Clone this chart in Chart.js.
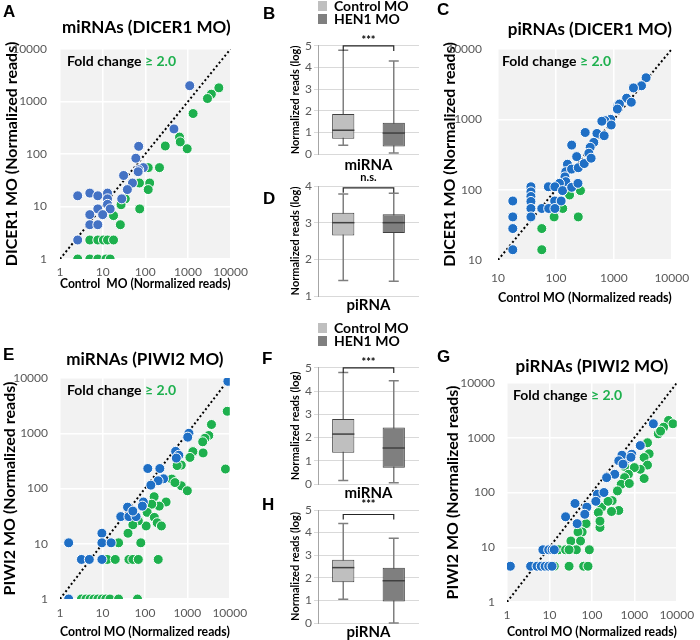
<!DOCTYPE html>
<html>
<head>
<meta charset="utf-8">
<script src="https://cdn.jsdelivr.net/npm/chart.js@4.4.1/dist/chart.umd.min.js"></script>
<style>
body { margin: 0; background: #fff; }
#fig { position: relative; width: 700px; height: 640px; overflow: hidden; }
#fig canvas { position: absolute; }
.lbl { position: absolute; font: bold 17px "Liberation Sans", Arial, sans-serif; line-height: 17px; color: #000; }
</style>
</head>
<body>
<div id="fig">
  <canvas id="cA" width="254" height="300" style="left:0;top:0"></canvas>
  <canvas id="cB" width="145" height="175" style="left:280px;top:0"></canvas>
  <canvas id="cD" width="145" height="145" style="left:280px;top:170px"></canvas>
  <canvas id="cC" width="280" height="310" style="left:420px;top:0"></canvas>
  <canvas id="cE" width="254" height="320" style="left:0;top:320px"></canvas>
  <canvas id="cF" width="145" height="183" style="left:280px;top:320px"></canvas>
  <canvas id="cH" width="145" height="152" style="left:280px;top:490px"></canvas>
  <canvas id="cG" width="280" height="320" style="left:420px;top:320px"></canvas>
  <div class="lbl" style="left:3px;top:3px">A</div>
  <div class="lbl" style="left:263px;top:5px">B</div>
  <div class="lbl" style="left:437px;top:1px">C</div>
  <div class="lbl" style="left:263px;top:190px">D</div>
  <div class="lbl" style="left:3px;top:346px">E</div>
  <div class="lbl" style="left:262px;top:350px">F</div>
  <div class="lbl" style="left:437px;top:348px">G</div>
  <div class="lbl" style="left:262px;top:496px">H</div>
</div>
<script>
// ---- scatter data: [control reads, knockdown reads] ----
const aBlue = [[1100,2000],[470,300],[70,140],[60,83],[90,55],[70,50],[68,46],[31,39],[50,28],[38,21],[28,14],
    [2.6,16],[5,18],[7.7,16],[13,18],[13,14],[13,11],[7.7,9],[15,9],[10,7],[5,7],[5,4.5],[7.7,4.5],[2.6,2.3]]
const aGreen = [[5300,1820],[3540,1380],[2870,1140],[1320,590],[635,210],[660,170],[960,126],[294,142],[215,55],
    [117,55],[127,28],[117,21],[73,28],[74,9],[34,14],[27,10.8],[18,6.7],[26,4.5],[5,2.3],[7.7,2.3],[10.4,2.3],
    [13,2.3],[18,2.3],[2.6,1],[5,1],[7.7,1],[12,1],[15,1]]

const cBlue = [[3600,3900],[3000,3000],[2180,2800],[1660,2000],[2000,1750],[1180,1590],[1250,1650],[1150,1400],
    [880,1000],[700,960],[620,940],[900,830],[510,630],[320,650],[680,585],[450,470],[390,400],[370,330],[228,295],
    [187,430],[158,230],[148,180],[186,196],[243,205],[308,235],[405,280],[143,152],[148,130],[115,123],[74,110],
    [96,110],[130,97],[187,108],[240,123],[95,69],[123,69],[57,54],[75,54],[96,54],[37,110],[37,93],[37,80],[37,68],
    [37,54],[37,41],[18,69],[18,41],[18,28],[18,14]]
const cGreen = [[265,97],[172,84],[131,54],[93,41],[243,41],[57,28],[57,14]]

const eBlue = [[9000,8700],[1090,1000],[1020,850],[530,470],[630,400],[550,355],[117,230],[225,230],[275,150],
    [205,138],[138,115],[92,57],[87,48],[39,46],[27,31],[42,31],[62,31],[52,39],[9.7,15.5],[9.7,10.4],[16,10.4],
    [1.6,10.4],[3.2,5.2],[4.9,5.2],[9.7,5.2],[1.6,1]]
const eGreen = [[8700,2500],[7900,225],[3700,1440],[3200,910],[2600,810],[2300,700],[2350,440],[1350,465],[1150,365],
    [720,265],[575,260],[720,112],[1000,91],[430,148],[510,128],[316,57],[218,48],[165,71],[145,52],[113,37],[167,30],
    [195,24],[245,21],[107,21],[70,26],[52,22],[40,15.5],[80,10.4],[24,10.4],[13,5.2],[20,5.2],[42,5.2],[52,5.2],
    [70,5.2],[206,5.2],[3.2,1],[4.1,1],[5.1,1],[6.3,1],[7.8,1],[9.8,1],[12,1],[15,1],[24,1],[67,1]]

const gBlue = [[2800,1800],[1380,720],[870,500],[645,405],[510,480],[430,380],[830,440],[540,330],[345,215],[222,187],
    [135,93],[192,100],[124,69],[76,54],[68,40],[45,27],[40,63],[24,36],[7,9],[9.6,9],[11.5,9],[13,9],[1.2,4.5],
    [3.6,4.5],[5.1,4.5],[6.4,4.5],[7.9,4.5],[9.6,4.5],[11.5,4.5]]
const gGreen = [[6400,2070],[8100,1800],[4900,1560],[3660,1180],[4150,1320],[2040,810],[2230,510],[1700,435],[2040,317],
    [1380,265],[1000,285],[1700,180],[590,300],[725,215],[590,187],[490,141],[760,146],[400,107],[300,71],[430,47],
    [290,45],[170,54],[142,43],[73,27],[59,19],[47,19],[32,13],[54,13],[155,23],[87,9],[43,9],[16.4,9],[24,9],[29,9],
    [13,4.5],[29,4.5],[64,4.5],[81,4.5],[240,69],[155,30]]

const miTicks = [1, 10, 100, 1000, 10000]
const piTicks = [10, 100, 1000, 10000]

// ---- box plot data (log normalized reads), [Control MO, HEN1 MO] ----
const boxLabels = ['Control MO', 'HEN1 MO']
const bMin = [0.4, 0.05], bQ1 = [0.7, 0.35], bMed = [1.1, 0.97], bQ3 = [1.85, 1.45], bMax = [4.8, 4.3]
const dMin = [1.42, 1.4], dQ1 = [2.65, 2.72], dMed = [3.0, 3.0], dQ3 = [3.27, 3.23], dMax = [3.78, 3.8]
const fMin = [0.15, 0.05], fQ1 = [1.35, 0.7], fMed = [2.15, 1.55], fQ3 = [2.8, 2.43], fMax = [4.8, 4.45]
const hMin = [1.05, 0], hQ1 = [1.8, 0.95], hMed = [2.45, 1.87], hQ3 = [2.8, 2.45], hMax = [4.4, 3.75]
const sigText = ['***', 'n.s.', '***', '***']
const sigLevel = [5.0, 3.95, 5.0, 4.8]

const BLUE_A = '#4472c4'
const BLUE = '#1f6fc5'
const GREEN = '#1eb04e'
const FONT = 'Lato, "Open Sans", sans-serif'

Chart.defaults.font.family = FONT
Chart.defaults.color = '#595959'

// grey panel behind the scatter plots
const plotBg = {
    id: 'plotBg',
    beforeDraw(chart){
        let a = chart.chartArea
        chart.ctx.save()
        chart.ctx.fillStyle = '#f2f2f2'
        chart.ctx.fillRect(a.left, a.top, a.width, a.height)
        chart.ctx.restore()
    }
}

// "Fold change >= 2.0" note in the top left corner
const foldNote = {
    id: 'foldNote',
    afterDatasetsDraw(chart, args, opts){
        let ctx = chart.ctx
        let x = chart.chartArea.left + opts.dx
        let y = chart.chartArea.top + 12
        ctx.save()
        ctx.font = 'bold 14px ' + FONT
        ctx.textBaseline = 'middle'
        ctx.fillStyle = '#000'
        ctx.fillText('Fold change ', x, y)
        x += ctx.measureText('Fold change ').width
        ctx.fillStyle = GREEN
        ctx.fillText('\u2265 2.0', x, y)
        ctx.restore()
    }
}

function toPts(arr){
    return arr.map(p => ({x: p[0], y: p[1]}))
}

function logAxis(ticks, o, isX){
    return {
        type: 'logarithmic',
        min: ticks[0],
        max: ticks[ticks.length - 1],
        afterBuildTicks: s => { s.ticks = ticks.map(v => ({value: v})) },
        afterFit: s => { if (isX) s.height = o.xH; else s.width = o.yW },
        grid: {color: '#ffffff', lineWidth: 1.5, drawTicks: false},
        border: {display: false},
        ticks: {
            autoSkip: false, maxRotation: 0,
            padding: isX ? o.xTickPad : o.yTickPad,
            color: '#595959', font: {size: 12},
            callback: v => String(v)
        },
        title: {
            display: true,
            text: isX ? o.xTitle : o.yTitle,
            color: '#000',
            font: {size: isX ? 14 : 16, weight: 'bold'},
            padding: isX ? {top: 0, bottom: o.xTitlePad} : {top: o.yTitlePad, bottom: 0}
        }
    }
}

function makeScatter(id, o){
    let t = o.ticks
    return new Chart(document.getElementById(id), {
        type: 'scatter',
        data: {
            datasets: [
                {label: 'up', data: toPts(o.blue), backgroundColor: o.blueColor, borderColor: '#fff', borderWidth: 1, pointRadius: 5},
                {label: 'down', data: toPts(o.green), backgroundColor: GREEN, borderColor: '#fff', borderWidth: 1, pointRadius: 5},
                {type: 'line', label: 'y = x', data: [{x: t[0], y: t[0]}, {x: t[t.length-1], y: t[t.length-1]}],
                    borderColor: '#000', borderWidth: 2, borderDash: [2, 2.5], pointRadius: 0, fill: false}
            ]
        },
        options: {
            responsive: false,
            animation: false,
            devicePixelRatio: 1,
            layout: {autoPadding: false, padding: {left: 0, right: o.padR, top: o.padT, bottom: 0}},
            plugins: {
                legend: {display: false},
                tooltip: {enabled: false},
                title: {
                    display: true, text: o.title, align: o.titleAlign, fullSize: false,
                    color: '#000', font: {size: 17, weight: 'bold'},
                    padding: {top: 0, bottom: o.titleGap}
                },
                foldNote: {dx: o.noteDx}
            },
            scales: {
                x: logAxis(t, o, true),
                y: logAxis(t, o, false)
            }
        },
        plugins: [plotBg, foldNote]
    })
}

// whiskers, medians and the significance bracket for a box chart
function boxMarks(lo, med, hi, level){
    return {
        id: 'boxMarks',
        beforeDatasetsDraw(chart){
            let {ctx, scales: {x, y}} = chart
            ctx.save()
            ctx.strokeStyle = '#7f7f7f'
            ctx.lineWidth = 1.5
            for (let i = 0; i < lo.length; i++){
                let cx = x.getPixelForValue(i)
                ctx.beginPath()
                ctx.moveTo(cx, y.getPixelForValue(lo[i]))
                ctx.lineTo(cx, y.getPixelForValue(hi[i]))
                for (let v of [lo[i], hi[i]]){
                    let py = y.getPixelForValue(v)
                    ctx.moveTo(cx - 5, py)
                    ctx.lineTo(cx + 5, py)
                }
                ctx.stroke()
            }
            ctx.restore()
        },
        afterDatasetsDraw(chart){
            let {ctx, scales: {x, y}} = chart
            ctx.save()
            ctx.strokeStyle = '#404040'
            ctx.lineWidth = 1.5
            for (let i = 0; i < med.length; i++){
                let bar = chart.getDatasetMeta(i).data[i]
                let py = y.getPixelForValue(med[i])
                ctx.beginPath()
                ctx.moveTo(bar.x - bar.width / 2, py)
                ctx.lineTo(bar.x + bar.width / 2, py)
                ctx.stroke()
            }
            let by = y.getPixelForValue(level)
            let x0 = x.getPixelForValue(0), x1 = x.getPixelForValue(1)
            ctx.strokeStyle = '#262626'
            ctx.lineWidth = 1.2
            ctx.beginPath()
            ctx.moveTo(x0, by + 5)
            ctx.lineTo(x0, by)
            ctx.lineTo(x1, by)
            ctx.lineTo(x1, by + 5)
            ctx.stroke()
            ctx.restore()
        }
    }
}

function makeBox(id, o){
    let legendLabels = chart => Chart.defaults.plugins.legend.labels.generateLabels(chart)
        .map(l => Object.assign(l, {lineWidth: 0, strokeStyle: 'rgba(0,0,0,0)'}))
    return new Chart(document.getElementById(id), {
        type: 'bar',
        data: {
            labels: boxLabels,
            datasets: [
                {label: boxLabels[0], data: [[o.q1[0], o.q3[0]], null], backgroundColor: '#bfbfbf',
                    borderColor: '#404040', borderWidth: 1, borderSkipped: false, grouped: false,
                    barPercentage: 0.44, categoryPercentage: 1},
                {label: boxLabels[1], data: [null, [o.q1[1], o.q3[1]]], backgroundColor: '#7f7f7f',
                    borderColor: '#404040', borderWidth: 1, borderSkipped: false, grouped: false,
                    barPercentage: 0.44, categoryPercentage: 1}
            ]
        },
        options: {
            responsive: false,
            animation: false,
            devicePixelRatio: 1,
            layout: {autoPadding: false, padding: {left: 0, right: 6, top: o.padT, bottom: 0}},
            plugins: {
                tooltip: {enabled: false},
                legend: {
                    display: o.legend, position: 'top', align: 'start', fullSize: false,
                    labels: {boxWidth: 10, boxHeight: 10, padding: -1, color: '#000',
                        font: {size: 14, weight: 'bold'}, generateLabels: legendLabels}
                },
                title: {
                    display: true, text: o.sig, weight: 500, fullSize: false, color: '#000',
                    font: {size: 11, weight: 'bold', lineHeight: 0.9},
                    padding: {top: o.sigTop, bottom: o.sigGap}
                }
            },
            scales: {
                x: {
                    afterFit: s => { s.height = o.xH },
                    grid: {display: false},
                    border: {display: false},
                    ticks: {display: false},
                    title: {display: true, text: o.cat, color: '#000', font: {size: 15, weight: 'bold'}, padding: {top: 0, bottom: 1}}
                },
                y: {
                    min: o.yMin, max: o.yMax,
                    afterFit: s => { s.width = 38 },
                    ticks: {stepSize: 1, padding: 2, color: '#595959', font: {size: 12}},
                    grid: {color: '#d9d9d9', tickLength: 4},
                    border: {color: '#a6a6a6'},
                    title: {display: true, text: 'Normalized reads (log)', color: '#000',
                        font: {size: 11, weight: 'bold'}, padding: {top: 8.4, bottom: 0}}
                }
            }
        },
        plugins: [boxMarks(o.lo, o.med, o.hi, o.level)]
    })
}

makeScatter('cA', {blue: aBlue, green: aGreen, blueColor: BLUE_A, ticks: miTicks,
    title: 'miRNAs (DICER1 MO)', titleAlign: 'end', yTitle: 'DICER1 MO (Normalized reads)', xTitle: 'Control  MO (Normalized reads)',
    padR: 17, padT: 17.8, titleGap: 10.8, yW: 60, yTitlePad: 2.4, yTickPad: 13, xH: 41, xTitlePad: 8.6, xTickPad: 6, noteDx: 7})

makeScatter('cC', {blue: cBlue, green: cGreen, blueColor: BLUE, ticks: piTicks,
    title: 'piRNAs (DICER1 MO)', titleAlign: 'end', yTitle: 'DICER1 MO (Normalized reads)', xTitle: 'Control MO (Normalized reads)',
    padR: 20, padT: 19.8, titleGap: 8.8, yW: 78, yTitlePad: 20.4, yTickPad: 16, xH: 50, xTitlePad: 4.6, xTickPad: 10.8, noteDx: 4})

makeScatter('cE', {blue: eBlue, green: eGreen, blueColor: BLUE, ticks: miTicks,
    title: 'miRNAs (PIWI2 MO)', titleAlign: 'center', yTitle: 'PIWI2 MO (Normalized reads)', xTitle: 'Control MO (Normalized reads)',
    padR: 17, padT: 29.8, titleGap: 7.8, yW: 60, yTitlePad: 0, yTickPad: 12, xH: 41, xTitlePad: 0, xTickPad: 6.8, noteDx: 7})

makeScatter('cG', {blue: gBlue, green: gGreen, blueColor: BLUE, ticks: miTicks,
    title: 'piRNAs (PIWI2 MO)', titleAlign: 'center', yTitle: 'PIWI2 MO (Normalized reads)', xTitle: 'Control MO (Normalized reads)',
    padR: 20, padT: 36.8, titleGap: 5.8, yW: 87, yTitlePad: 23.4, yTickPad: 12, xH: 38, xTitlePad: 0, xTickPad: 5.8, noteDx: 6})

makeBox('cB', {lo: bMin, q1: bQ1, med: bMed, q3: bQ3, hi: bMax, sig: sigText[0], level: sigLevel[0],
    cat: 'miRNA', yMin: 0, yMax: 5, legend: true, padT: 0, sigTop: 0, sigGap: 0, xH: 21})
makeBox('cD', {lo: dMin, q1: dQ1, med: dMed, q3: dQ3, hi: dMax, sig: sigText[1], level: sigLevel[1],
    cat: 'piRNA', yMin: 1, yMax: 4, legend: false, padT: 3, sigTop: 0, sigGap: 3.1, xH: 19})
makeBox('cF', {lo: fMin, q1: fQ1, med: fMed, q3: fQ3, hi: fMax, sig: sigText[2], level: sigLevel[2],
    cat: 'miRNA', yMin: 0, yMax: 5, legend: true, padT: 2, sigTop: 0, sigGap: 0, xH: 19})
makeBox('cH', {lo: hMin, q1: hQ1, med: hMed, q3: hQ3, hi: hMax, sig: sigText[3], level: sigLevel[3],
    cat: 'piRNA', yMin: 0, yMax: 5, legend: false, padT: 10, sigTop: 0, sigGap: 0.1, xH: 19})
</script>
</body>
</html>
